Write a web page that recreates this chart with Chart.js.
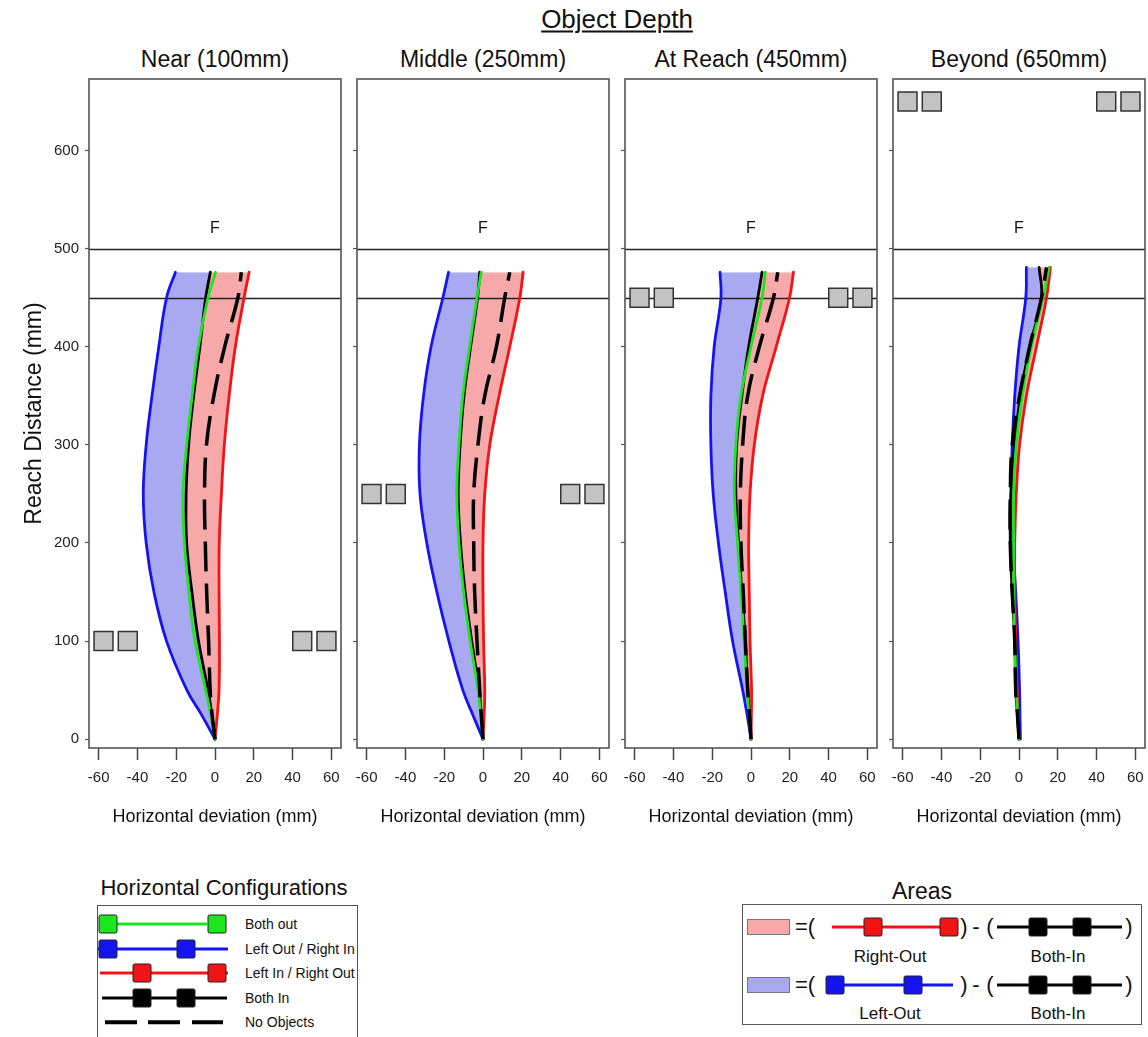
<!DOCTYPE html>
<html><head><meta charset="utf-8">
<script src="https://cdn.jsdelivr.net/npm/chart.js@4.4.1/dist/chart.umd.min.js"></script>
<style>
html,body{margin:0;padding:0;background:#fff;width:1148px;height:1037px;overflow:hidden;}
body{position:relative;font-family:"Liberation Sans",Arial,sans-serif;color:#111;}
.t{position:absolute;white-space:nowrap;transform:translate(-50%,-50%);line-height:normal;}
.tl{position:absolute;white-space:nowrap;transform:translateY(-50%);line-height:normal;}
canvas{position:absolute;}
.sq{position:absolute;width:19px;height:19px;box-sizing:border-box;border:1px solid #222;border-radius:2px;transform:translate(-50%,-50%);}
.ln{position:absolute;height:3px;transform:translateY(-50%);}
.box{position:absolute;box-sizing:border-box;border:1.5px solid #555;}
</style></head><body>

<div class="t" style="left:617px;top:19px;font-size:26px;text-decoration:underline;text-underline-offset:3px;">Object Depth</div>

<div id="titles"></div>
<div id="charts"></div>

<!-- Horizontal Configurations legend -->
<div class="t" style="left:224px;top:888px;font-size:22px;">Horizontal Configurations</div>
<div class="box" style="left:97px;top:905px;width:261px;height:140px;"></div>
<div class="ln" style="left:117px;top:924px;width:90px;background:#1ee61e;"></div>
<div class="sq" style="left:107.5px;top:924px;background:#1ee61e;"></div>
<div class="sq" style="left:217px;top:924px;background:#1ee61e;"></div>
<div class="tl" style="left:245px;top:924px;font-size:14px;">Both out</div>
<div class="ln" style="left:98px;top:949px;width:130px;background:#1414f0;"></div>
<div class="sq" style="left:107.5px;top:949px;background:#1414f0;"></div>
<div class="sq" style="left:185.5px;top:949px;background:#1414f0;"></div>
<div class="tl" style="left:245px;top:949px;font-size:14px;">Left Out / Right In</div>
<div class="ln" style="left:100px;top:973px;width:128px;background:#f01414;"></div>
<div class="sq" style="left:141.5px;top:973px;background:#f01414;"></div>
<div class="sq" style="left:217px;top:973px;background:#f01414;"></div>
<div class="tl" style="left:245px;top:973px;font-size:14px;">Left In / Right Out</div>
<div class="ln" style="left:102px;top:998px;width:125px;background:#000;"></div>
<div class="sq" style="left:141.5px;top:998px;background:#000;"></div>
<div class="sq" style="left:185.5px;top:998px;background:#000;"></div>
<div class="tl" style="left:245px;top:998px;font-size:14px;">Both In</div>
<div class="ln" style="left:105px;top:1022px;width:32px;height:3.5px;background:#000;"></div>
<div class="ln" style="left:148px;top:1022px;width:32px;height:3.5px;background:#000;"></div>
<div class="ln" style="left:192px;top:1022px;width:31px;height:3.5px;background:#000;"></div>
<div class="tl" style="left:245px;top:1022px;font-size:14px;">No Objects</div>

<!-- Areas legend -->
<div class="t" style="left:922px;top:891px;font-size:23px;">Areas</div>
<div class="box" style="left:742px;top:904px;width:400px;height:121px;"></div>
<div style="position:absolute;left:747px;top:919px;width:43px;height:16px;box-sizing:border-box;border:1px solid #777;background:#f7a9a9;"></div>
<div class="tl" style="left:795px;top:927px;font-size:22px;">=(</div>
<div class="ln" style="left:832px;top:927px;width:125px;background:#f01414;"></div>
<div class="sq" style="left:872.5px;top:927px;background:#f01414;"></div>
<div class="sq" style="left:948.5px;top:927px;background:#f01414;"></div>
<div class="t" style="left:964px;top:927px;font-size:22px;">)</div>
<div class="t" style="left:976px;top:927px;font-size:22px;">-</div>
<div class="t" style="left:990px;top:927px;font-size:22px;">(</div>
<div class="ln" style="left:997px;top:927px;width:125px;background:#000;"></div>
<div class="sq" style="left:1037.5px;top:927px;background:#000;"></div>
<div class="sq" style="left:1081.5px;top:927px;background:#000;"></div>
<div class="t" style="left:1129px;top:927px;font-size:22px;">)</div>
<div class="t" style="left:890px;top:957px;font-size:17px;">Right-Out</div>
<div class="t" style="left:1058px;top:957px;font-size:17px;">Both-In</div>

<div style="position:absolute;left:747px;top:977px;width:43px;height:16px;box-sizing:border-box;border:1px solid #777;background:#a9a9f2;"></div>
<div class="tl" style="left:795px;top:985px;font-size:22px;">=(</div>
<div class="ln" style="left:827px;top:985px;width:126px;background:#1414f0;"></div>
<div class="sq" style="left:835px;top:985px;background:#1414f0;"></div>
<div class="sq" style="left:912.5px;top:985px;background:#1414f0;"></div>
<div class="t" style="left:964px;top:985px;font-size:22px;">)</div>
<div class="t" style="left:976px;top:985px;font-size:22px;">-</div>
<div class="t" style="left:990px;top:985px;font-size:22px;">(</div>
<div class="ln" style="left:997px;top:985px;width:125px;background:#000;"></div>
<div class="sq" style="left:1037.5px;top:985px;background:#000;"></div>
<div class="sq" style="left:1081.5px;top:985px;background:#000;"></div>
<div class="t" style="left:1129px;top:985px;font-size:22px;">)</div>
<div class="t" style="left:890px;top:1014px;font-size:17px;">Left-Out</div>
<div class="t" style="left:1058px;top:1014px;font-size:17px;">Both-In</div>

<script>
// ---------- DATA ----------
const depthTitles = ['Near (100mm)', 'Middle (250mm)', 'At Reach (450mm)', 'Beyond (650mm)'];
const deviationTicks = [-60, -40, -20, 0, 20, 40, 60];
const reachTicks = [0, 100, 200, 300, 400, 500, 600];
const referenceLines = [450, 500];
const finishLabel = 'F';
const finishLabelReach = 520;
const obstacleX = [-57.5, -45, 45, 57.5];
const obstacleReach = [100, 250, 450, 650];

// Reach distance (mm) sample levels of the trajectories
const reachLevels = [0, 25, 50, 100, 150, 200, 250, 300, 350, 400, 450, 476];
const reachLevelsBeyond = [0, 25, 50, 100, 150, 200, 250, 300, 350, 400, 450, 481];

// Horizontal deviation (mm) – Near (100mm)
const nearLeftOut  = [0, -7, -14.5, -25, -31.5, -35.5, -37, -35.5, -32.5, -29, -25, -20.4];
const nearBothOut  = [0, -2.2, -4.8, -10.3, -13.5, -15.8, -16.6, -14.6, -11.8, -8.6, -3.6, 0.3];
const nearBothIn   = [0, -1.6, -3.6, -8.5, -11.9, -14.6, -14.9, -13.6, -11, -7.8, -4.8, -2.4];
const nearRightOut = [0, 1.2, 2.1, 2.3, 2.1, 2.2, 3.3, 4.8, 7.3, 10.5, 15, 17.6];
const nearNone     = [0, -1.5, -2.5, -3.3, -4.3, -5, -5.4, -4.4, -0.6, 5, 11.8, 13.6];

// Middle (250mm)
const midLeftOut  = [0, -5.3, -10.4, -17.6, -23.8, -29, -32.5, -32.8, -30.7, -26.8, -20.7, -17.8];
const midBothOut  = [0, -1.2, -2.6, -6.6, -10, -12.4, -13.5, -12.4, -10.4, -6.9, -3.1, -0.9];
const midBothIn   = [0, -0.9, -2, -5.8, -9.2, -11.6, -12.8, -11.8, -9.8, -6.4, -2.8, -1.7];
const midRightOut = [0, 0.6, 0.9, 0.3, 0, 0, 0.9, 3.5, 8.3, 13.8, 19, 20.7];
const midNone     = [0, -0.9, -1.7, -3.1, -4.3, -4.8, -4.8, -2.6, 0.9, 6.9, 11.2, 13.8];

// At Reach (450mm)
const reachLeftOut  = [0, -2, -4.3, -9.5, -13.3, -16.8, -19.5, -20.7, -20.7, -19, -15.5, -16];
const reachBothOut  = [0, -1, -2.1, -3.5, -5.2, -6.9, -8.6, -7.8, -5.2, 0, 5.7, 7.4];
const reachBothIn   = [0, -0.8, -1.7, -2.9, -4.7, -6.4, -7.8, -7.4, -4.7, -1.2, 3.5, 5.7];
const reachRightOut = [0, 0.2, 0.3, -0.5, -0.9, -1.2, -0.5, 1.7, 6, 13, 19.9, 21.9];
const reachNone     = [0, -0.8, -1.7, -2.9, -4, -5.2, -5.5, -4.3, -1.7, 4.3, 11.6, 13.8];

// Beyond (650mm)
const beyondLeftOut  = [0.7, 0.5, 0.3, -0.5, -1.7, -3.1, -4, -3.5, -2.2, 0, 3.5, 3.8];
const beyondBothOut  = [0, -0.7, -1.4, -2.2, -2.8, -2.8, -2.8, -1.4, 1.7, 6.4, 12.4, 15.5];
const beyondBothIn   = [0, -0.8, -1.7, -2.2, -3.5, -4.5, -4.2, -2.2, 0.7, 5.5, 11.6, 10.4];
const beyondRightOut = [0, -0.5, -1, -1.7, -2.2, -2.2, -1.4, 0.3, 3.8, 9, 14.2, 16.2];
const beyondNone     = [0, -0.8, -1.7, -2.2, -3.5, -4.5, -4.5, -3.5, 0.3, 5.5, 11.6, 14.2];

const panels = [
  {reach: reachLevels, leftOut: nearLeftOut, bothOut: nearBothOut, bothIn: nearBothIn, rightOut: nearRightOut, none: nearNone},
  {reach: reachLevels, leftOut: midLeftOut, bothOut: midBothOut, bothIn: midBothIn, rightOut: midRightOut, none: midNone},
  {reach: reachLevels, leftOut: reachLeftOut, bothOut: reachBothOut, bothIn: reachBothIn, rightOut: reachRightOut, none: reachNone},
  {reach: reachLevelsBeyond, leftOut: beyondLeftOut, bothOut: beyondBothOut, bothIn: beyondBothIn, rightOut: beyondRightOut, none: beyondNone}
];

// ---------- LAYOUT / STYLE ----------
const FONT = '"Liberation Sans", Arial, sans-serif';
const areaLeft = [89, 357, 625, 893];
const areaWidth = 252;
const areaTop = 79;
const areaHeight = 669;
const PAD = 15;      // covers the point overflow of the obstacle squares
const xAxisHeight = 90;
const COLORS = {blue: '#1414f0', green: '#1ee61e', red: '#f01414', black: '#000000',
  pink: '#f7a9a9', lavender: '#a9a9f2', square: '#c3c3c3'};

const panelPlugin = {
  id: 'panelDecor',
  beforeDatasetsDraw(chart) {
    const {ctx, chartArea: a, scales: {x, y}} = chart;
    ctx.save();
    ctx.strokeStyle = '#222';
    ctx.lineWidth = 1.5;
    referenceLines.forEach(v => {
      const py = Math.round(y.getPixelForValue(v)) + 0.5;
      ctx.beginPath(); ctx.moveTo(a.left, py); ctx.lineTo(a.right, py); ctx.stroke();
    });
    ctx.fillStyle = '#111';
    ctx.font = '16px ' + FONT;
    ctx.textAlign = 'center';
    ctx.textBaseline = 'middle';
    ctx.fillText(finishLabel, x.getPixelForValue(0), y.getPixelForValue(finishLabelReach));
    ctx.restore();
  },
  afterDraw(chart) {
    const {ctx, chartArea: a} = chart;
    ctx.save();
    ctx.strokeStyle = '#555';
    ctx.lineWidth = 1.6;
    ctx.strokeRect(a.left, a.top, a.right - a.left, a.bottom - a.top);
    ctx.restore();
  }
};

const titlesDiv = document.getElementById('titles');
const chartsDiv = document.getElementById('charts');

panels.forEach((p, i) => {
  const t = document.createElement('div');
  t.className = 't';
  t.style.left = (areaLeft[i] + areaWidth / 2) + 'px';
  t.style.top = '59px';
  t.style.fontSize = '23px';
  t.textContent = depthTitles[i];
  titlesDiv.appendChild(t);

  const yWidth = i === 0 ? 89 : PAD;
  const cv = document.createElement('canvas');
  const w = yWidth + areaWidth + PAD;
  const h = PAD + areaHeight + xAxisHeight;
  cv.width = w; cv.height = h;
  cv.style.left = (areaLeft[i] - yWidth) + 'px';
  cv.style.top = (areaTop - PAD) + 'px';
  cv.style.width = w + 'px'; cv.style.height = h + 'px';
  chartsDiv.appendChild(cv);

  const pts = arr => arr.map((v, k) => ({x: v, y: p.reach[k]}));
  const lineDs = (label, arr, color, width, extra) => Object.assign({
    label, data: pts(arr), borderColor: color, borderWidth: width, pointRadius: 0,
    tension: 0.4, fill: false, borderCapStyle: 'round'
  }, extra || {});

  const datasets = [
    {label: 'Objects', data: obstacleX.map(v => ({x: v, y: obstacleReach[i]})), showLine: false,
      pointStyle: 'rect', pointRadius: 13.4, pointBackgroundColor: COLORS.square,
      pointBorderColor: '#333', pointBorderWidth: 1.5, fill: false},
    lineDs('No Objects', p.none, COLORS.black, 3.5, {borderDash: [30, 12], borderCapStyle: 'butt'}),
    lineDs('Both out', p.bothOut, COLORS.green, 2.8),
    lineDs('Both In', p.bothIn, COLORS.black, 2.8),
    lineDs('Left In / Right Out', p.rightOut, COLORS.red, 2.8, {fill: {target: 3}, backgroundColor: COLORS.pink}),
    lineDs('Left Out / Right In', p.leftOut, COLORS.blue, 2.8, {fill: {target: 3}, backgroundColor: COLORS.lavender})
  ];

  new Chart(cv, {
    type: 'line',
    data: {datasets},
    plugins: [panelPlugin],
    options: {
      indexAxis: 'y',
      responsive: false,
      animation: false,
      devicePixelRatio: 1,
      events: [],
      layout: {padding: {top: PAD, right: PAD, left: 0, bottom: 0}},
      plugins: {
        legend: {display: false},
        tooltip: {enabled: false},
        filler: {drawTime: 'beforeDatasetsDraw'}
      },
      scales: {
        x: {
          type: 'linear', position: 'bottom', min: -65, max: 65,
          afterBuildTicks: s => { s.ticks = deviationTicks.map(v => ({value: v})); },
          afterFit: s => { s.height = xAxisHeight; },
          border: {display: false},
          grid: {display: true, drawOnChartArea: false, drawTicks: true, tickLength: 12, tickColor: '#444', tickWidth: 1.5},
          ticks: {font: {size: 15, family: FONT}, color: '#222', padding: 9, maxRotation: 0, autoSkip: false},
          title: {display: true, text: 'Horizontal deviation (mm)', font: {size: 18, family: FONT}, color: '#111',
            padding: {top: 0, bottom: 10}}
        },
        y: {
          type: 'linear', position: 'left', min: -9, max: 673,
          afterBuildTicks: s => { s.ticks = reachTicks.map(v => ({value: v})); },
          afterFit: s => { s.width = yWidth; },
          border: {display: false},
          grid: {display: true, drawOnChartArea: false, drawTicks: true, tickLength: 4, tickColor: '#555', tickWidth: 1.2},
          ticks: {display: i === 0, font: {size: 15, family: FONT}, color: '#222', padding: 6},
          title: {display: i === 0, text: 'Reach Distance (mm)', font: {size: 23, family: FONT}, color: '#111',
            padding: {top: 21, bottom: 0}}
        }
      }
    }
  });
});
</script>
</body></html>
